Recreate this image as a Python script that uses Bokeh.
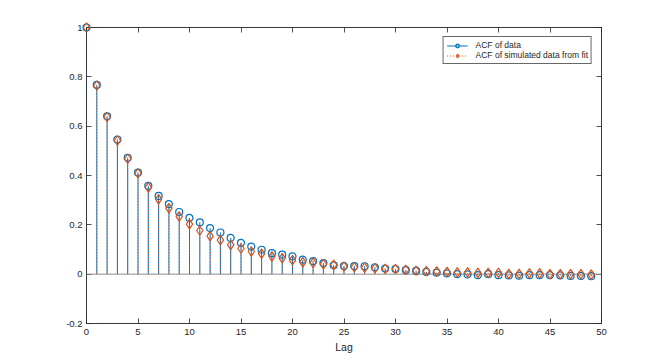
from bokeh.plotting import figure
from bokeh.models import (LinearAxis, FixedTicker, CustomJSTickFormatter, Span,
                          Legend, LegendItem, ColumnDataSource)
from bokeh.embed import file_html
from bokeh.resources import INLINE

# ---- data ----
lags = list(range(50))
acf_data = [1.0, 0.767, 0.640, 0.546, 0.472, 0.412, 0.358, 0.317, 0.284, 0.252,
            0.228, 0.210, 0.187, 0.169, 0.147, 0.127, 0.112, 0.099, 0.085, 0.079,
            0.072, 0.059, 0.053, 0.045, 0.036, 0.033, 0.033, 0.032, 0.028, 0.023,
            0.021, 0.016, 0.013, 0.009, 0.006, 0.003, 0.000, -0.001, -0.004, 0.000,
            -0.004, -0.005, -0.006, -0.004, -0.004, -0.004, -0.005, -0.007, -0.007, -0.008]
acf_sim = [1.0, 0.765, 0.637, 0.542, 0.468, 0.409, 0.352, 0.304, 0.268, 0.234,
           0.203, 0.177, 0.154, 0.138, 0.119, 0.104, 0.092, 0.083, 0.072, 0.065,
           0.057, 0.049, 0.046, 0.041, 0.038, 0.031, 0.028, 0.026, 0.024, 0.022,
           0.021, 0.018, 0.014, 0.012, 0.011, 0.009, 0.007, 0.007, 0.005, 0.005,
           0.005, 0.001, 0.001, 0.003, 0.003, 0.000, 0.000, 0.000, 0.000, -0.002]
x_ticks = [0, 5, 10, 15, 20, 25, 30, 35, 40, 45, 50]
y_ticks = [-0.2, 0, 0.2, 0.4, 0.6, 0.8, 1.0]
label_data = "ACF of data"
label_sim = "ACF of simulated data from fit"
x_label = "Lag"

BLUE = "#0072BD"
RED = "#D95319"
AX = "#262626"
FONT = "Liberation Sans"

p = figure(width=656, height=355, x_range=(0, 50), y_range=(-0.2, 1.0),
           output_backend="svg", toolbar_location=None,
           min_border_left=86, min_border_right=55, min_border_top=27, min_border_bottom=32)
p.xgrid.visible = False
p.ygrid.visible = False
p.outline_line_color = AX
p.outline_line_alpha = 0.7
p.background_fill_color = "white"
p.border_fill_color = "white"

fmt = CustomJSTickFormatter(code="return String(Number(tick.toFixed(2)));")
blank = CustomJSTickFormatter(code="return '';")

def style_axis(ax):
    ax.axis_line_color = AX
    ax.axis_line_alpha = 0.7
    ax.major_tick_line_color = AX
    ax.major_tick_line_alpha = 0.8
    ax.major_tick_in = 5
    ax.major_tick_out = 0
    ax.minor_tick_line_color = None
    ax.major_label_text_color = AX
    ax.major_label_text_font = FONT
    ax.major_label_text_font_size = "9.5px"
    ax.axis_label_text_font = FONT
    ax.axis_label_text_font_style = "normal"
    ax.axis_label_text_color = AX
    ax.axis_label_text_font_size = "10.5px"

p.xaxis.ticker = FixedTicker(ticks=x_ticks)
p.yaxis.ticker = FixedTicker(ticks=y_ticks)
p.yaxis.formatter = fmt
style_axis(p.xaxis[0])
style_axis(p.yaxis[0])
p.xaxis.major_label_standoff = 5
p.yaxis.major_label_standoff = 4
p.xaxis.axis_label = x_label
p.xaxis.axis_label_standoff = 3

top = LinearAxis(ticker=FixedTicker(ticks=x_ticks), formatter=blank)
style_axis(top)
top.major_label_standoff = 0
p.add_layout(top, "above")
right = LinearAxis(ticker=FixedTicker(ticks=y_ticks), formatter=blank)
style_axis(right)
right.major_label_standoff = 0
p.add_layout(right, "right")

# stem baseline
p.add_layout(Span(location=0, dimension="width", line_color="#8c8c8c", line_width=1))

src = ColumnDataSource(dict(lag=lags, d=acf_data, s=acf_sim, zero=[0] * len(lags)))

seg_d = p.segment(x0="lag", y0="zero", x1="lag", y1="d", source=src,
                  line_color=BLUE, line_width=1)
seg_s = p.segment(x0="lag", y0="zero", x1="lag", y1="s", source=src,
                  line_color=RED, line_width=1, line_dash="1 2")
# markers at overlay level so the lag-0 markers at the frame corner are not clipped
sc_d = p.scatter(x="lag", y="d", source=src, marker="circle", size=7,
                 line_color=BLUE, fill_color=None, line_width=1.2, level="overlay")
sc_s = p.scatter(x="lag", y="s", source=src, marker="diamond", size=9.5,
                 line_color=RED, fill_color=None, line_width=1.2, level="overlay")

legend = Legend(items=[LegendItem(label=label_data, renderers=[seg_d, sc_d]),
                       LegendItem(label=label_sim, renderers=[seg_s, sc_s])],
                location="top_right")
legend.margin = 9
legend.padding = 3
legend.spacing = 0
legend.glyph_width = 21
legend.glyph_height = 9
legend.label_height = 9
legend.label_standoff = 8
legend.label_text_font = FONT
legend.label_text_font_size = "8.5px"
legend.label_text_color = AX
legend.border_line_color = AX
legend.border_line_alpha = 0.7
legend.background_fill_color = "white"
legend.background_fill_alpha = 1
legend.level = "overlay"
p.add_layout(legend, "center")

open("out.html", "w").write(file_html(p, INLINE))
